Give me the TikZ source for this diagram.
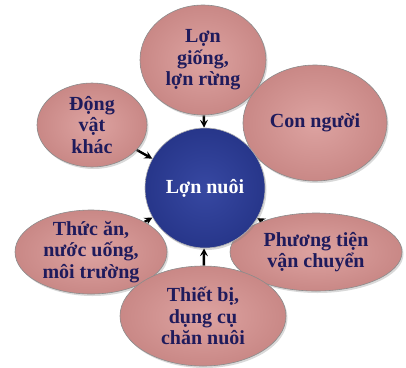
\documentclass[tikz,border=0pt]{standalone}
\usepackage{fontspec}
\setmainfont{Liberation Serif}
\usetikzlibrary{shapes.geometric, arrows, shadows, backgrounds}
\definecolor{hongsang}{HTML}{DDA3A1}
\definecolor{hongtoi}{HTML}{C98886}
\definecolor{xanhsang}{HTML}{3748A2}
\definecolor{xanhtoi}{HTML}{27368A}
\definecolor{chu}{HTML}{1F1B5C}
\tikzstyle{bong} = [ellipse, draw=gray!90, line width=0.6pt, inner color=hongsang, outer color=hongtoi, text=chu, align=center, font=\bfseries\fontsize{20}{21.5}\selectfont, inner xsep=-9pt, inner ysep=-5pt, drop shadow={opacity=0.3, shadow xshift=1.5pt, shadow yshift=-2pt}]
\tikzstyle{tron} = [circle, draw=gray!60, line width=0.6pt, inner color=xanhsang, outer color=xanhtoi, text=white, font=\bfseries\fontsize{20}{21.5}\selectfont, minimum size=120pt, inner sep=0pt, drop shadow={opacity=0.3, shadow xshift=1.5pt, shadow yshift=-2pt}]
\tikzstyle{arrow} = [line width=2.4pt,->,>=stealth]

\begin{document}
\begin{tikzpicture}[x=1pt,y=-1pt]
\useasboundingbox (0,0) rectangle (406,367);
\node[bong, minimum width=126pt, minimum height=110pt] (giong) at (203,60) {Lợn\\giống,\\lợn rừng};
\node[bong, minimum width=110pt, minimum height=84pt] (dongvat) at (92,125) {Động\\vật\\khác};
\node[bong, minimum width=144pt, minimum height=116pt] (connguoi) at (315,123) {Con người};
\node[bong, minimum width=152pt, minimum height=84pt] (thucan) at (91,252) {Thức ăn,\\nước uống,\\môi trường};
\node[bong, minimum width=172pt, minimum height=78pt] (phuongtien) at (316,252) {Phương tiện\\vận chuyển};
\node[bong, minimum width=166pt, minimum height=100pt] (thietbi) at (203,316) {Thiết bị,\\dụng cụ\\chăn nuôi};
\node[tron] (lonnuoi) at (205,188) {Lợn nuôi};

\begin{pgfonlayer}{background}
\foreach \n in {giong,dongvat,connguoi,thucan,phuongtien,thietbi}{
\draw[arrow] (\n) -- (lonnuoi);
}
\end{pgfonlayer}
\end{tikzpicture}
\end{document}
